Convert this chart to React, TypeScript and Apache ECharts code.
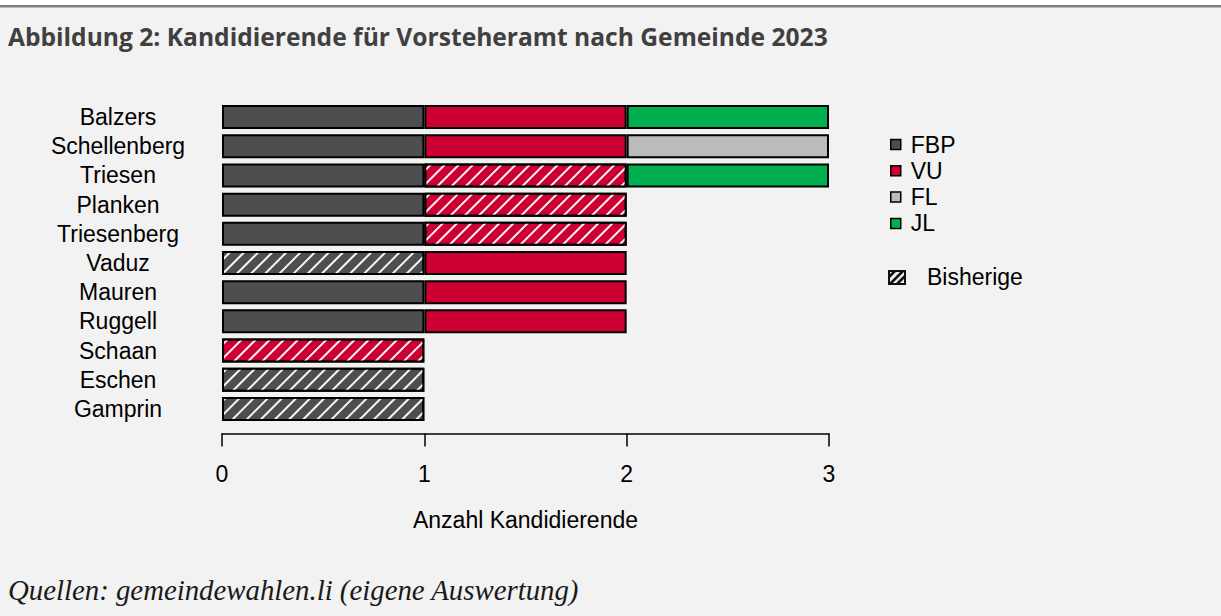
import React, { useEffect, useRef } from "react";
import * as echarts from "echarts";

const titleText = "Abbildung 2: Kandidierende für Vorsteheramt nach Gemeinde 2023";
const sourceText = "Quellen: gemeindewahlen.li (eigene Auswertung)";
const axisTitle = "Anzahl Kandidierende";
const incumbentLabel = "Bisherige";

const categories = [
  "Balzers", "Schellenberg", "Triesen", "Planken", "Triesenberg", "Vaduz",
  "Mauren", "Ruggell", "Schaan", "Eschen", "Gamprin",
];
const parties = ["FBP", "VU", "FL", "JL"];
const partyColors = ["#4d4e50", "#cc0033", "#bbbbbb", "#00b050"];
const fbp = [1, 1, 1, 1, 1, 1, 1, 1, 0, 1, 1];
const vu = [1, 1, 1, 1, 1, 1, 1, 1, 1, 0, 0];
const fl = [0, 1, 0, 0, 0, 0, 0, 0, 0, 0, 0];
const jl = [1, 0, 1, 0, 0, 0, 0, 0, 0, 0, 0];
const incumbentParty = ["", "", "VU", "VU", "VU", "FBP", "", "", "VU", "FBP", "FBP"];
const xTicks = [0, 1, 2, 3];

const seriesValues = [fbp, vu, fl, jl];

const LABEL_FONT = "'Liberation Sans', Arial, sans-serif";
const FS = 23;

export default function App() {
  const ref = useRef<HTMLDivElement>(null);
  useEffect(() => {
    if (!ref.current) return;
    const chart = echarts.init(ref.current, null, { renderer: "svg" });
    const decal = {
      symbol: "rect",
      symbolSize: 1,
      color: "rgba(255,255,255,0.95)",
      dashArrayX: [1, 0],
      dashArrayY: [1.5, 7.6],
      rotation: -Math.PI / 4,
    };
    const series = parties.map((p, si) => ({
      name: p,
      type: "bar",
      stack: "total",
      barWidth: 24,
      itemStyle: { color: partyColors[si], borderColor: "#000", borderWidth: 2 },
      emphasis: { disabled: true },
      data: seriesValues[si].map((v, ci) =>
        v
          ? incumbentParty[ci] === p
            ? { value: v, itemStyle: { decal } }
            : { value: v }
          : "-"
      ),
    }));
    const hx = 889, hy = 271, hw = 16, hh = 13;
    chart.setOption({
      animation: false,
      backgroundColor: "#f2f2f2",
      title: {
        text: titleText,
        left: 8,
        top: 24,
        padding: 0,
        textStyle: { fontFamily: "'Open Sans', sans-serif", fontWeight: "bold", fontSize: 24.6, color: "#404040" },
      },
      legend: {
        orient: "vertical",
        left: 885,
        top: 128,
        data: parties,
        icon: "rect",
        itemWidth: 10,
        itemHeight: 10,
        itemGap: 3.3,
        selectedMode: false,
        itemStyle: { borderColor: "#000", borderWidth: 1.5 },
        textStyle: { fontFamily: LABEL_FONT, fontSize: FS, color: "#000", lineHeight: 21, padding: [0, 0, 0, 5] },
      },
      grid: { left: 222, right: 392, top: 102.5, height: 321, containLabel: false },
      xAxis: {
        type: "value",
        min: 0,
        max: 3,
        interval: 1,
        offset: 10,
        axisLine: { show: true, lineStyle: { color: "#000", width: 1.5 } },
        axisTick: { show: true, length: 13, lineStyle: { color: "#000", width: 1.5 } },
        splitLine: { show: false },
        axisLabel: {
          margin: 29,
          fontFamily: LABEL_FONT,
          fontSize: FS,
          color: "#000",
          formatter: (v: number) => (xTicks.includes(v) ? String(v) : ""),
        },
        name: axisTitle,
        nameLocation: "middle",
        nameGap: 75,
        nameTextStyle: { fontFamily: LABEL_FONT, fontSize: FS, color: "#000" },
      },
      yAxis: {
        type: "category",
        inverse: true,
        data: categories,
        axisLine: { show: false },
        axisTick: { show: false },
        axisLabel: {
          interval: 0,
          hideOverlap: false,
          align: "center",
          margin: 104,
          fontFamily: LABEL_FONT,
          fontSize: FS,
          lineHeight: 20,
          color: "#000",
        },
      },
      series,
      graphic: [
        { type: "rect", left: 0, top: 0, shape: { width: 1221, height: 5 }, style: { fill: "#ffffff" } },
        { type: "rect", left: 0, top: 5, shape: { width: 1221, height: 2.5 }, style: { fill: "#7f7f7f" } },
        {
          type: "text",
          left: 8,
          top: 575,
          style: {
            text: sourceText,
            fontFamily: "'Liberation Serif', serif",
            fontStyle: "italic",
            fontSize: 28.8,
            fill: "#1a1a1a",
          },
        },
        {
          type: "group",
          children: [
            { type: "rect", shape: { x: hx, y: hy, width: hw, height: hh }, style: { fill: "#f2f2f2", stroke: "#111", lineWidth: 2 } },
            { type: "line", shape: { x1: hx, y1: hy + 6, x2: hx + 6, y2: hy }, style: { stroke: "#111", lineWidth: 2.5 } },
            { type: "line", shape: { x1: hx + 1, y1: hy + hh, x2: hx + 1 + hh, y2: hy }, style: { stroke: "#111", lineWidth: 2.5 } },
            { type: "line", shape: { x1: hx + 8, y1: hy + hh, x2: hx + hw, y2: hy + 5 }, style: { stroke: "#111", lineWidth: 2.5 } },
          ],
        },
        {
          type: "text",
          left: 927,
          top: 265,
          style: { text: incumbentLabel, fontFamily: LABEL_FONT, fontSize: FS, fill: "#000" },
        },
      ],
    });
    return () => chart.dispose();
  }, []);
  return (
    <div
      ref={ref}
      style={{ position: "fixed", left: 0, top: 0, width: 1221, height: 616 }}
    />
  );
}
